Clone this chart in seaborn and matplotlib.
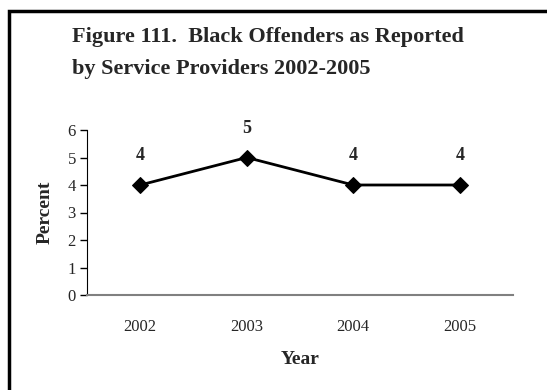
import matplotlib
matplotlib.use("Agg")
import matplotlib.pyplot as plt
from matplotlib.patches import Rectangle
import seaborn as sns
import pandas as pd

years = ["2002", "2003", "2004", "2005"]
percent = [4, 5, 4, 4]

sns.set_style("white")
plt.rcParams['font.family'] = ['Liberation Serif', 'DejaVu Serif']

df = pd.DataFrame({"pos": range(len(years)), "pct": percent})

fig = plt.figure(figsize=(5.47, 3.9), dpi=100)
ax = fig.add_axes([87 / 547, 95 / 390, 426 / 547, 165 / 390])

sns.lineplot(data=df, x="pos", y="pct", ax=ax, color="black", lw=2,
             marker="D", markersize=8, markeredgecolor="black")

for x, y in zip(df["pos"], df["pct"]):
    ax.annotate(str(y), (x, y), xytext=(0, 21), textcoords="offset points",
                ha="center", va="center", fontsize=13, fontweight="bold")

ax.set_xlim(-0.5, len(years) - 0.5)
ax.set_ylim(0, 6)
ax.set_yticks(range(0, 7))
ax.set_xticks(range(len(years)))
ax.set_xticklabels(years)
ax.set_xticks([i - 0.5 for i in range(len(years) + 1)], minor=True)
ax.tick_params(axis="x", which="major", length=0, pad=17, labelsize=12)
ax.tick_params(axis="x", which="minor", length=5, width=1, color="black", direction="out")
ax.tick_params(axis="y", length=5, width=1, color="black", direction="out", labelsize=12, left=True, pad=3)

ax.spines["top"].set_visible(False)
ax.spines["right"].set_visible(False)
ax.spines["left"].set_color("black")
ax.spines["bottom"].set_color("#808080")
ax.spines["bottom"].set_linewidth(1.5)

ax.set_xlabel("Year", fontsize=14, fontweight="bold", labelpad=12)
ax.set_ylabel("Percent", fontsize=14, fontweight="bold", labelpad=10)

fig.text(72 / 547, 1 - 37 / 390, "Figure 111.  Black Offenders as Reported",
         fontsize=16, fontweight="bold", va="center", ha="left")
fig.text(72 / 547, 1 - 69 / 390, "by Service Providers 2002-2005",
         fontsize=16, fontweight="bold", va="center", ha="left")

fig.patches.append(Rectangle((9 / 547, -0.1), 1.2, 1 - 11 / 390 + 0.1,
                             transform=fig.transFigure, fill=False,
                             edgecolor="black", linewidth=2.5))

fig.savefig("out.png", dpi=100)
